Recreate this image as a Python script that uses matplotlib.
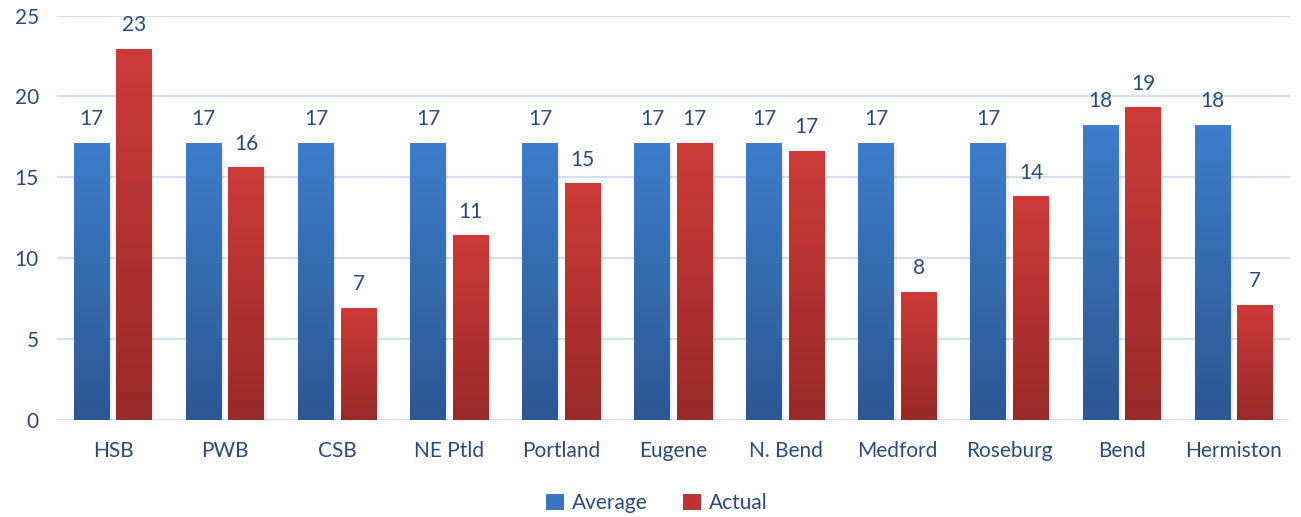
import numpy as np
import matplotlib.pyplot as plt
from matplotlib.colors import LinearSegmentedColormap
from matplotlib.patches import Patch

categories = ['HSB', 'PWB', 'CSB', 'NE Ptld', 'Portland', 'Eugene',
              'N. Bend', 'Medford', 'Roseburg', 'Bend', 'Hermiston']
average = [17.1, 17.1, 17.1, 17.1, 17.1, 17.1, 17.1, 17.1, 17.1, 18.2, 18.2]
actual = [22.9, 15.6, 6.9, 11.4, 14.6, 17.1, 16.6, 7.9, 13.8, 19.3, 7.1]

text_col = '#2A4A7A'
plt.rcParams['font.family'] = ['Lato', 'DejaVu Sans']

fig = plt.figure(figsize=(13.01, 5.17), dpi=100)
ax = fig.add_axes([0.0438, 0.1876, 0.9477, 0.7824])

x = np.arange(len(categories))
w = 0.32
off = 0.19

blue_cm = LinearSegmentedColormap.from_list('b', ['#2C5893', '#3D7DCA'])
red_cm = LinearSegmentedColormap.from_list('r', ['#982A29', '#CD3B39'])
grad = np.linspace(0, 1, 256).reshape(-1, 1)

def gradient_bars(pos, vals, cmap):
    bars = ax.bar(pos, vals, w, color='none', zorder=3)
    for b in bars:
        x0, y0 = b.get_x(), b.get_y()
        # shadow
        ax.bar(x0 + w / 2 + 0.02, b.get_height(), w, bottom=-0.15,
               color='#000000', alpha=0.06, zorder=2, linewidth=0)
        ax.imshow(grad, cmap=cmap, origin='lower', aspect='auto',
                  extent=(x0, x0 + w, y0, y0 + b.get_height()), zorder=3)
    for xi, v in zip(pos, vals):
        ax.annotate(f'{v:.0f}', (xi, v), xytext=(0, 13), textcoords='offset points',
                    ha='center', va='baseline', fontsize=15, color=text_col)

gradient_bars(x - off, average, blue_cm)
gradient_bars(x + off, actual, red_cm)

ax.set_xlim(-0.5, len(categories) - 0.5)
ax.set_ylim(0, 25)
ax.set_yticks(range(0, 26, 5))
ax.set_xticks(x)
ax.set_xticklabels(categories)
ax.tick_params(axis='both', length=0, labelsize=15, labelcolor=text_col)
ax.tick_params(axis='x', pad=15)
ax.tick_params(axis='y', pad=13)
ax.yaxis.grid(True, color='#D6E1F0', linewidth=1.6, zorder=0)
ax.set_axisbelow(True)
for s in ax.spines.values():
    s.set_visible(False)

handles = [Patch(facecolor='#3A76C0', label='Average'),
           Patch(facecolor='#BB3432', label='Actual')]
fig.legend(handles=handles, loc='center', bbox_to_anchor=(0.505, 0.027), ncol=2,
           frameon=False, fontsize=15, labelcolor=text_col, handlelength=0.85,
           handleheight=0.85, handletextpad=0.4, columnspacing=1.7)

fig.savefig('out.png', dpi=100)
